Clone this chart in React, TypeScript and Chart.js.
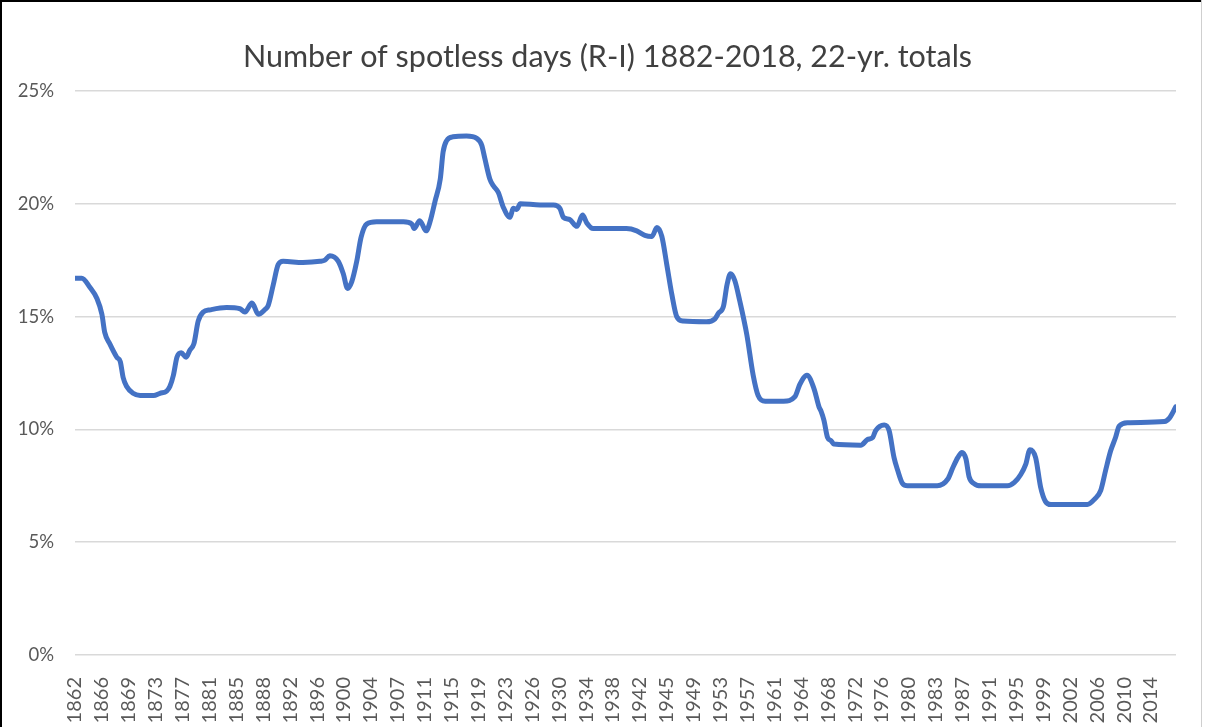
import React, { useEffect, useRef } from 'react';
import { Chart, registerables } from 'chart.js';

Chart.register(...registerables);

const chartTitle = 'Number of spotless days (R-I) 1882-2018, 22-yr. totals';

const years = [
  1862.3, 1863.25, 1864.4, 1865.4, 1866.1, 1866.5, 1867.2, 1868.2, 1868.7, 1869.1,
  1869.6, 1870.5, 1871.5, 1873.4, 1874.3, 1875.25, 1875.7, 1876.2, 1876.7, 1877.3,
  1878.0, 1878.5, 1879.1, 1879.7, 1880.4, 1881.4, 1883.7, 1885.6, 1886.3, 1887.3,
  1888.2, 1889.1, 1889.6, 1890.3, 1891.0, 1891.7, 1894.5, 1896.9, 1897.6, 1898.3,
  1899.5, 1900.2, 1900.8, 1901.4, 1902.1, 1902.7, 1903.5, 1904.9, 1908.7, 1909.9,
  1910.2, 1911.0, 1911.9, 1912.45, 1913.15, 1913.9, 1914.3, 1914.8, 1915.7, 1917.6,
  1919.05, 1919.75, 1920.2, 1920.9, 1921.4, 1922.1, 1922.8, 1923.75, 1924.2, 1924.7,
  1925.2, 1928.0, 1929.9, 1930.8, 1931.3, 1932.2, 1933.2, 1934.0, 1934.6, 1935.5,
  1940.2, 1941.65, 1942.8, 1943.8, 1944.5, 1945.2, 1945.9, 1946.6, 1947.3, 1948.2,
  1951.5, 1952.7, 1953.2, 1953.9, 1954.4, 1954.9, 1955.5, 1956.2, 1957.2, 1958.1,
  1958.8, 1959.8, 1962.4, 1964.0, 1964.7, 1965.7, 1966.7, 1967.4, 1967.7, 1968.1,
  1968.6, 1969.1, 1969.5, 1973.3, 1974.25, 1975.0, 1975.4, 1976.6, 1977.3, 1978.0,
  1978.5, 1979.2, 1979.9, 1984.1, 1985.6, 1986.3, 1987.0, 1987.6, 1988.15, 1988.6,
  1989.3, 1990.3, 1994.0, 1995.0, 1995.9, 1996.6, 1997.2, 1998.0, 1998.7, 1999.4,
  2000.15, 2005.3, 2006.3, 2007.2, 2007.9, 2008.6, 2009.3, 2009.8, 2011.0, 2016.2,
  2016.9, 2017.8,
];

const spotlessPct = [
  16.7, 16.7, 16.3, 15.8, 15.1, 14.3, 13.8, 13.2, 13.0, 12.3,
  11.9, 11.6, 11.5, 11.5, 11.6, 11.7, 11.9, 12.4, 13.2, 13.4,
  13.2, 13.5, 13.8, 14.8, 15.2, 15.3, 15.4, 15.35, 15.2, 15.6,
  15.1, 15.3, 15.5, 16.4, 17.3, 17.45, 17.4, 17.45, 17.5, 17.7,
  17.45, 16.9, 16.25, 16.55, 17.45, 18.5, 19.1, 19.2, 19.2, 19.1,
  18.9, 19.25, 18.8, 19.2, 20.1, 21.1, 22.3, 22.8, 22.97, 23.0,
  22.9, 22.6, 22.0, 21.1, 20.8, 20.5, 19.85, 19.4, 19.8, 19.75,
  20.0, 19.95, 19.95, 19.8, 19.4, 19.3, 19.0, 19.5, 19.15, 18.9,
  18.9, 18.8, 18.6, 18.55, 18.95, 18.55, 17.3, 16.0, 15.0, 14.8,
  14.77, 14.9, 15.15, 15.45, 16.4, 16.9, 16.6, 15.7, 14.2, 12.4,
  11.5, 11.25, 11.25, 11.45, 12.0, 12.4, 11.8, 11.0, 10.8, 10.4,
  9.65, 9.5, 9.35, 9.3, 9.55, 9.65, 9.95, 10.2, 9.95, 8.75,
  8.2, 7.6, 7.5, 7.5, 7.8, 8.3, 8.75, 8.98, 8.7, 7.9,
  7.6, 7.5, 7.5, 7.65, 8.0, 8.45, 9.1, 8.75, 7.45, 6.8,
  6.67, 6.67, 6.9, 7.3, 8.2, 9.05, 9.65, 10.15, 10.3, 10.35,
  10.5, 11.0,
];

const tickLabels = [
  '1862', '1866', '1869', '1873', '1877', '1881', '1885', '1888', '1892', '1896',
  '1900', '1904', '1907', '1911', '1915', '1919', '1923', '1926', '1930', '1934',
  '1938', '1942', '1945', '1949', '1953', '1957', '1961', '1964', '1968', '1972',
  '1976', '1980', '1983', '1987', '1991', '1995', '1999', '2002', '2006', '2010',
  '2014',
];

const X_START = 1862.3;
const X_STEP = 3.8;
const X_END = 2017.83;

const FONT = 'Lato, "Open Sans", sans-serif';

const titlePlugin = {
  id: 'excelTitle',
  afterDraw(chart: any) {
    const ctx = chart.ctx;
    ctx.save();
    ctx.font = `normal 30.5px ${FONT}`;
    ctx.fillStyle = '#404040';
    ctx.textAlign = 'center';
    ctx.textBaseline = 'middle';
    ctx.fillText(chartTitle, 607.5, 57.3);
    ctx.restore();
  },
};

export default function App() {
  const ref = useRef<HTMLCanvasElement>(null);

  useEffect(() => {
    if (!ref.current) return;
    const chart = new Chart(ref.current, {
      type: 'line',
      data: {
        datasets: [
          {
            data: years.map((x, i) => ({ x, y: spotlessPct[i] })),
            borderColor: '#4472C4',
            backgroundColor: '#4472C4',
            borderWidth: 5,
            pointRadius: 0,
            cubicInterpolationMode: 'monotone',
            borderCapStyle: 'round',
            borderJoinStyle: 'round',
            fill: false,
          },
        ],
      },
      plugins: [titlePlugin],
      options: {
        responsive: false,
        animation: false,
        devicePixelRatio: 1,
        layout: { padding: { left: 0, right: 32, top: 91, bottom: 0 } },
        plugins: {
          legend: { display: false },
          tooltip: { enabled: false },
          title: { display: false },
        },
        scales: {
          x: {
            type: 'linear',
            min: X_START,
            max: X_END,
            grid: { display: false },
            border: { display: false },
            afterBuildTicks: (scale: any) => {
              scale.ticks = tickLabels.map((_, i) => ({ value: X_START + i * X_STEP }));
            },
            afterFit: (scale: any) => {
              scale.height = 72;
            },
            ticks: {
              autoSkip: false,
              minRotation: 90,
              maxRotation: 90,
              padding: 14,
              color: '#595959',
              font: { family: FONT, size: 20 },
              callback: (_v: any, i: number) => tickLabels[i],
            },
          },
          y: {
            min: 0,
            max: 25,
            ticks: {
              stepSize: 5,
              padding: 21,
              color: '#595959',
              font: { family: FONT, size: 18.5 },
              callback: (v: any) => v + '%',
            },
            grid: { color: '#d9d9d9', lineWidth: 1.5, drawTicks: false },
            border: { display: false },
            afterFit: (scale: any) => {
              scale.width = 75;
            },
          },
        },
      },
    });
    return () => chart.destroy();
  }, []);

  return (
    <div
      style={{
        position: 'fixed',
        left: 0,
        top: 0,
        width: 1208,
        height: 727,
        background: '#fff',
        overflow: 'hidden',
      }}
    >
      <canvas ref={ref} width={1208} height={727} style={{ position: 'absolute', left: 0, top: 0 }} />
      <div style={{ position: 'absolute', left: 0, top: 0, width: 1201, height: 2, background: '#000' }} />
      <div style={{ position: 'absolute', left: 0, top: 0, width: 2, height: 727, background: '#000' }} />
      <div style={{ position: 'absolute', left: 1201, top: 0, width: 1, height: 727, background: '#cfcfcf' }} />
    </div>
  );
}
